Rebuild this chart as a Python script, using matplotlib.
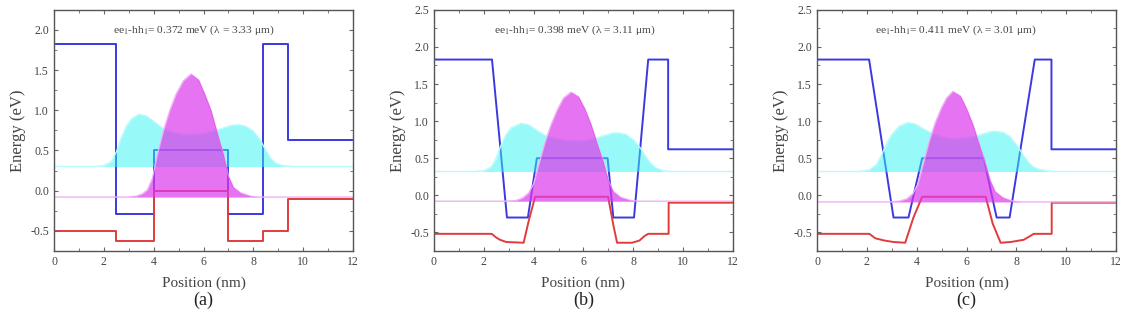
import numpy as np
import matplotlib
matplotlib.use('Agg')
import matplotlib.pyplot as plt
from matplotlib.ticker import MultipleLocator

plt.rcParams['font.family'] = ['Liberation Serif', 'DejaVu Serif']
plt.rcParams['mathtext.fontset'] = 'stix'

# ---- panel (a) ----
cb_x_a = [0, 2.5, 2.5, 4.0, 4.0, 7.0, 7.0, 8.4, 8.4, 9.4, 9.4, 12]
cb_y_a = [1.83, 1.83, -0.29, -0.29, 0.50, 0.50, -0.29, -0.29, 1.83, 1.83, 0.63, 0.63]
vb_x_a = [0, 2.5, 2.5, 4.0, 4.0, 7.0, 7.0, 8.4, 8.4, 9.4, 9.4, 12]
vb_y_a = [-0.50, -0.50, -0.63, -0.63, -0.01, -0.01, -0.63, -0.63, -0.50, -0.50, -0.10, -0.10]
e_x_a = [0, 1.6, 2.0, 2.3, 2.5, 2.7, 2.9, 3.1, 3.4, 3.7, 4.0, 4.4, 4.8, 5.2, 5.6, 6.0,
         6.4, 6.8, 7.1, 7.4, 7.7, 8.0, 8.3, 8.5, 8.7, 8.9, 9.2, 9.6, 12]
e_y_a = [0.30, 0.30, 0.31, 0.36, 0.48, 0.66, 0.80, 0.89, 0.95, 0.93, 0.86, 0.77, 0.72, 0.70, 0.70, 0.71,
         0.74, 0.78, 0.81, 0.82, 0.80, 0.74, 0.62, 0.50, 0.40, 0.34, 0.31, 0.30, 0.30]
h_x_a = [0, 2.9, 3.3, 3.55, 3.75, 3.95, 4.15, 4.4, 4.65, 4.9, 5.2, 5.5, 5.8, 6.05, 6.3,
         6.55, 6.8, 7.0, 7.2, 7.5, 7.9, 8.2, 12]
h_y_a = [-0.08, -0.08, -0.07, -0.04, 0.01, 0.15, 0.45, 0.75, 1.00, 1.20, 1.37, 1.45, 1.38, 1.20, 1.00,
         0.72, 0.45, 0.18, 0.04, -0.03, -0.07, -0.08, -0.08]

# ---- panel (b) ----
cb_x_b = [0, 2.33, 2.93, 3.77, 4.13, 6.97, 7.2, 8.03, 8.6, 9.4, 9.4, 12]
cb_y_b = [1.83, 1.83, -0.30, -0.30, 0.50, 0.50, -0.30, -0.30, 1.83, 1.83, 0.62, 0.62]
vb_x_b = [0, 2.32, 2.5, 2.65, 2.9, 3.6, 3.8, 4.06, 6.99, 7.2, 7.35, 7.95, 8.25, 8.45, 8.6, 9.42, 9.42, 12]
vb_y_b = [-0.52, -0.52, -0.57, -0.60, -0.63, -0.64, -0.35, -0.02, -0.02, -0.40, -0.64, -0.64, -0.61, -0.55, -0.52, -0.52, -0.10, -0.10]
e_x_b = [0, 1.6, 2.0, 2.3, 2.5, 2.7, 2.9, 3.1, 3.5, 3.8, 4.1, 4.5, 4.9, 5.3, 5.7, 6.1,
         6.5, 6.9, 7.2, 7.4, 7.7, 8.0, 8.3, 8.5, 8.7, 8.9, 9.2, 9.6, 12]
e_y_b = [0.32, 0.32, 0.33, 0.38, 0.50, 0.68, 0.82, 0.91, 0.97, 0.95, 0.88, 0.80, 0.76, 0.74, 0.73, 0.74,
         0.77, 0.81, 0.84, 0.84, 0.82, 0.75, 0.63, 0.52, 0.43, 0.37, 0.33, 0.32, 0.32]
h_x_b = [0, 2.9, 3.3, 3.55, 3.8, 4.0, 4.2, 4.45, 4.7, 4.95, 5.2, 5.5, 5.8, 6.05, 6.3,
         6.55, 6.8, 7.0, 7.2, 7.5, 7.9, 8.2, 12]
h_y_b = [-0.08, -0.08, -0.07, -0.04, 0.03, 0.15, 0.40, 0.70, 0.95, 1.15, 1.31, 1.39, 1.33, 1.17, 0.96,
         0.70, 0.45, 0.20, 0.05, -0.03, -0.07, -0.08, -0.08]

# ---- panel (c) ----
cb_x_c = [0, 2.09, 3.07, 3.67, 4.22, 6.69, 7.21, 7.73, 8.74, 9.41, 9.41, 12]
cb_y_c = [1.83, 1.83, -0.30, -0.30, 0.50, 0.50, -0.30, -0.30, 1.83, 1.83, 0.62, 0.62]
vb_x_c = [0, 2.1, 2.34, 2.7, 3.07, 3.54, 3.87, 4.22, 6.77, 7.05, 7.37, 7.77, 8.3, 8.55, 8.7, 9.42, 9.42, 12]
vb_y_c = [-0.52, -0.52, -0.58, -0.61, -0.63, -0.64, -0.30, -0.02, -0.02, -0.38, -0.64, -0.63, -0.60, -0.55, -0.52, -0.52, -0.10, -0.10]
e_x_c = [0, 1.7, 2.1, 2.4, 2.6, 2.8, 3.0, 3.3, 3.65, 3.95, 4.3, 4.7, 5.1, 5.5, 5.9, 6.3,
         6.7, 7.0, 7.2, 7.45, 7.75, 8.05, 8.3, 8.5, 8.7, 8.9, 9.2, 9.6, 12]
e_y_c = [0.32, 0.32, 0.34, 0.42, 0.55, 0.70, 0.82, 0.93, 0.98, 0.96, 0.89, 0.82, 0.78, 0.76, 0.77, 0.79,
         0.83, 0.86, 0.86, 0.85, 0.79, 0.66, 0.53, 0.44, 0.38, 0.35, 0.33, 0.32, 0.32]
h_x_c = [0, 2.9, 3.3, 3.6, 3.85, 4.05, 4.25, 4.5, 4.75, 5.0, 5.2, 5.45, 5.75, 6.0, 6.25,
         6.5, 6.75, 6.95, 7.15, 7.45, 7.85, 8.2, 12]
h_y_c = [-0.09, -0.09, -0.08, -0.05, 0.02, 0.15, 0.40, 0.72, 0.98, 1.18, 1.31, 1.40, 1.34, 1.17, 0.96,
         0.70, 0.44, 0.20, 0.05, -0.03, -0.08, -0.09, -0.09]

labels = ['(a)', '(b)', '(c)']
notes = [r'ee$_1$-hh$_1$= 0.372 meV (λ = 3.33 μm)',
         r'ee$_1$-hh$_1$= 0.398 meV (λ = 3.11 μm)',
         r'ee$_1$-hh$_1$= 0.411 meV (λ = 3.01 μm)']
note_pos = [(5.6, 1.99), (5.65, 2.23), (5.55, 2.23)]
ylims = [(-0.75, 2.25), (-0.75, 2.5), (-0.75, 2.5)]
lefts = [0.048, 0.3854, 0.7256]

data = [(cb_x_a, cb_y_a, vb_x_a, vb_y_a, e_x_a, e_y_a, h_x_a, h_y_a),
        (cb_x_b, cb_y_b, vb_x_b, vb_y_b, e_x_b, e_y_b, h_x_b, h_y_b),
        (cb_x_c, cb_y_c, vb_x_c, vb_y_c, e_x_c, e_y_c, h_x_c, h_y_c)]

fig = plt.figure(figsize=(11.26, 3.18), dpi=100)
grey = '#444444'

for i in range(3):
    cbx, cby, vbx, vby, ex, ey, hx, hy = data[i]
    ax = fig.add_axes([lefts[i], 0.211, 0.2655, 0.758])

    ax.plot(cbx, cby, color='#3a3ae0', lw=1.4, zorder=1)
    ax.plot(vbx, vby, color='#e03c3c', lw=1.4, zorder=1)

    ax.fill_between(ex, ey[0], ey, color='#33f4f4', alpha=0.5, lw=0, zorder=2)
    ax.plot(ex, ey, color='#b8fafa', lw=1.0, zorder=2)
    ax.fill_between(hx, hy[0], hy, color='#dc38ec', alpha=0.7, lw=0, zorder=3)
    ax.plot(hx, hy, color='#f0b0f5', lw=1.0, zorder=2)

    ax.set_xlim(0, 12)
    ax.set_ylim(*ylims[i])
    ax.xaxis.set_major_locator(MultipleLocator(2))
    ax.xaxis.set_minor_locator(MultipleLocator(1))
    ax.yaxis.set_major_locator(MultipleLocator(0.5))
    ax.yaxis.set_minor_locator(MultipleLocator(0.25))
    ax.yaxis.set_major_formatter(matplotlib.ticker.FormatStrFormatter('%.1f'))
    ax.tick_params(which='both', direction='in', top=True, right=True,
                   colors='#666666', labelcolor=grey, labelsize=8.5)
    ax.tick_params(which='major', length=3)
    ax.tick_params(which='minor', length=2)
    for s in ax.spines.values():
        s.set_color('#555555')
        s.set_linewidth(1.0)

    ax.set_xlabel('Position (nm)', fontsize=11, color=grey, labelpad=6)
    ax.set_ylabel('Energy (eV)', fontsize=12, color=grey, labelpad=3)
    ax.text(note_pos[i][0], note_pos[i][1], notes[i], ha='center', va='center',
            fontsize=8.2, color=grey)

    fig.text(lefts[i] + 0.2655 / 2, 0.057, labels[i], ha='center', va='center',
             fontsize=13, color='#222222')

fig.savefig('out.png', dpi=100)
